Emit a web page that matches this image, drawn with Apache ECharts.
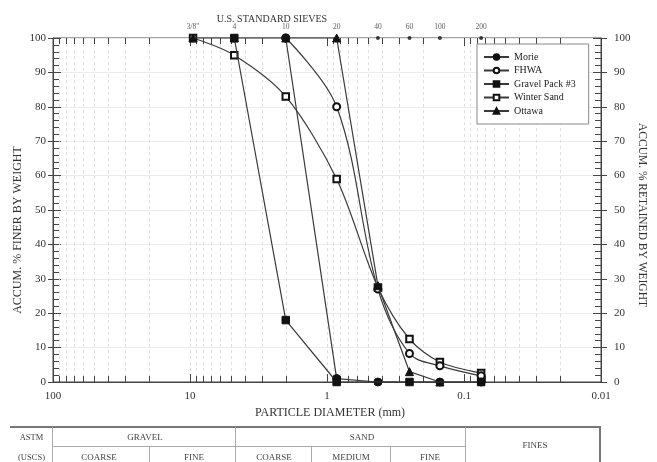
<!DOCTYPE html>
<html><head><meta charset="utf-8">
<script src="https://cdn.jsdelivr.net/npm/echarts@6/dist/echarts.min.js"></script>
<style>html,body{margin:0;padding:0;background:#fff}#c{width:657px;height:462px}</style>
</head><body><div id="c"></div>
<script>
// ---- data ----
const sieveSizes = [9.5, 4.75, 2.0, 0.85, 0.425, 0.25, 0.15, 0.075];
const sieveLabels = ['3/8"', '4', '10', '20', '40', '60', '100', '200'];
const seriesNames = ['Morie', 'FHWA', 'Gravel Pack #3', 'Winter Sand', 'Ottawa'];

const morieSizes = [2.0, 0.85, 0.425, 0.15, 0.075];
const morieValues = [100, 1, 0, 0, 0];
const fhwaSizes = [2.0, 0.85, 0.425, 0.25, 0.15, 0.075];
const fhwaValues = [100, 80, 27, 8.3, 4.7, 1.8];
const gravelSizes = [4.75, 2.0, 0.85, 0.25, 0.075];
const gravelValues = [100, 18, 0, 0, 0];
const winterSizes = [9.5, 4.75, 2.0, 0.85, 0.425, 0.25, 0.15, 0.075];
const winterValues = [100, 95, 83, 59, 27.5, 12.5, 5.8, 2.6];
const ottawaSizes = [9.5, 4.75, 2.0, 0.85, 0.425, 0.25, 0.15];
const ottawaValues = [100, 100, 100, 100, 28, 3, 0];

const decadeTicks = [10, 1, 0.1];
const minorTicks = [90, 80, 70, 60, 50, 40, 30, 20,
                    9, 8, 7, 6, 5, 4, 3, 2,
                    0.9, 0.8, 0.7, 0.6, 0.5, 0.4, 0.3, 0.2,
                    0.09, 0.08, 0.07, 0.06, 0.05, 0.04, 0.03, 0.02];

const FONT = 'Liberation Serif';
const INK = '#333';

function zip(a, b) { return a.map((v, i) => [v, b[i]]); }

const chart = echarts.init(document.getElementById('c'), null, {renderer: 'canvas'});

function lineSeries(name, sizes, values, symbol, size, smooth, z) {
  return {
    name: name, type: 'line', data: zip(sizes, values),
    symbol: symbol, symbolSize: size, smooth: smooth || false,
    clip: false, z: z,
    lineStyle: {color: '#3a3a3a', width: 1.2},
    itemStyle: {color: '#111', borderColor: '#111', borderWidth: 1},
    emphasis: {disabled: true}
  };
}

const tickData = decadeTicks.map(v => [v, 1]).concat(minorTicks.map(v => [v, 0]));

const yBase = {
  type: 'value', min: 0, max: 100, interval: 10
};

chart.setOption({
  animation: false,
  backgroundColor: '#fff',
  grid: {left: 53, right: 56, top: 38, bottom: 80, show: true, borderColor: '#444', borderWidth: 1, backgroundColor: 'transparent'},
  xAxis: {
    type: 'log', logBase: 10, min: 0.01, max: 100, inverse: true,
    axisLine: {show: true, onZero: false, lineStyle: {color: '#444'}},
    axisTick: {show: false}, minorTick: {show: false}, splitLine: {show: false},
    axisLabel: {margin: 9, color: INK, fontFamily: FONT, fontSize: 11,
      formatter: v => String(parseFloat(Number(v).toPrecision(3)))}
  },
  yAxis: [
    Object.assign({}, yBase, {
      position: 'left',
      axisLine: {show: true, onZero: false, lineStyle: {color: '#444'}},
      axisTick: {show: true, inside: true, length: 8, lineStyle: {color: '#444'}},
      minorTick: {show: true, splitNumber: 5, length: 6, lineStyle: {color: '#444'}},
      splitLine: {show: true, lineStyle: {color: '#ececec', width: 1}},
      axisLabel: {margin: 7, color: INK, fontFamily: FONT, fontSize: 11}
    }),
    Object.assign({}, yBase, {
      position: 'right',
      axisLine: {show: true, onZero: false, lineStyle: {color: '#444'}},
      axisTick: {show: true, inside: true, length: 8, lineStyle: {color: '#444'}},
      minorTick: {show: true, splitNumber: 5, length: 6, lineStyle: {color: '#444'}},
      splitLine: {show: false},
      axisLabel: {margin: 13, color: INK, fontFamily: FONT, fontSize: 11}
    }),
    Object.assign({}, yBase, {
      position: 'left', axisLine: {show: false},
      axisTick: {show: true, inside: false, length: 5, lineStyle: {color: '#444'}},
      splitLine: {show: false}, axisLabel: {show: false}
    }),
    Object.assign({}, yBase, {
      position: 'right', axisLine: {show: false},
      axisTick: {show: true, inside: false, length: 6, lineStyle: {color: '#444'}},
      splitLine: {show: false}, axisLabel: {show: false}
    })
  ],
  legend: {
    data: seriesNames, orient: 'vertical', left: 477, top: 44,
    padding: [7, 13, 7, 6], itemWidth: 25, itemHeight: 7, itemGap: 1.5,
    borderColor: '#888', borderWidth: 1, backgroundColor: '#fff',
    textStyle: {fontFamily: FONT, fontSize: 10, color: '#222', lineHeight: 12},
    selectedMode: false
  },
  series: [
    {
      type: 'custom', silent: true, z: 1, clip: false,
      data: tickData, encode: {x: 0, y: 1},
      renderItem: function (params, api) {
        const v = api.value(0);
        const major = api.value(1) === 1;
        const b = api.coord([v, 0]);
        const t = api.coord([v, 100]);
        const x = Math.round(b[0]) + 0.5;
        const tl = major ? 8 : 6;
        return {
          type: 'group', children: [
            {type: 'line', shape: {x1: x, y1: t[1], x2: x, y2: b[1]},
             style: {stroke: '#e0e0e0', lineWidth: 1, lineDash: [3, 3]}},
            {type: 'line', shape: {x1: x, y1: b[1], x2: x, y2: b[1] - tl},
             style: {stroke: '#444', lineWidth: 1}},
            {type: 'line', shape: {x1: x, y1: t[1], x2: x, y2: t[1] + tl},
             style: {stroke: '#444', lineWidth: 1}}
          ]
        };
      }
    },
    {
      type: 'scatter', silent: true, z: 3, clip: false,
      data: sieveSizes.map((s, i) => ({value: [s, 100], name: sieveLabels[i]})),
      symbol: 'circle', symbolSize: 4, itemStyle: {color: '#111'},
      label: {show: true, position: 'top', distance: 5, formatter: '{b}',
        fontFamily: FONT, fontSize: 7.5, color: INK}
    },
    lineSeries('Morie', morieSizes, morieValues, 'circle', 8, false, 7),
    lineSeries('FHWA', fhwaSizes, fhwaValues, 'emptyCircle', 7, 0.35, 5),
    lineSeries('Gravel Pack #3', gravelSizes, gravelValues, 'rect', 7.5, false, 8),
    lineSeries('Winter Sand', winterSizes, winterValues, 'emptyRect', 6.5, 0.3, 4),
    lineSeries('Ottawa', ottawaSizes, ottawaValues, 'triangle', 8, false, 6)
  ],
  graphic: (function () {
    const g = [];
    const txt = (text, x, y, size, rot, color) => g.push({
      type: 'text', x: x, y: y, rotation: rot || 0, silent: true,
      style: {text: text, fontFamily: FONT, fontSize: size, fill: color || INK,
        align: 'center', verticalAlign: 'middle'}
    });
    const ln = (x1, y1, x2, y2, w, c) => g.push({
      type: 'line', silent: true,
      shape: {x1: x1, y1: y1, x2: x2, y2: y2},
      style: {stroke: c || '#999', lineWidth: w || 1}
    });
    txt('U.S. STANDARD SIEVES', 272, 19, 10);
    txt('PARTICLE DIAMETER (mm)', 330, 413, 12);
    txt('ACCUM. % FINER BY WEIGHT', 18, 230, 12, Math.PI / 2);
    txt('ACCUM. % RETAINED BY WEIGHT', 642, 215, 11.5, -Math.PI / 2);
    // classification table
    ln(10, 427, 601, 427, 2, '#777');
    ln(600, 426, 600, 470, 2, '#777');
    ln(52.5, 427, 52.5, 470, 1, '#aaa');
    ln(235.5, 427, 235.5, 470, 1, '#aaa');
    ln(465.5, 427, 465.5, 470, 1, '#aaa');
    ln(52.5, 446.5, 465.5, 446.5, 1, '#aaa');
    ln(149.5, 446.5, 149.5, 470, 1, '#aaa');
    ln(311.5, 446.5, 311.5, 470, 1, '#aaa');
    ln(390.5, 446.5, 390.5, 470, 1, '#aaa');
    txt('ASTM', 31.5, 437.5, 8.5, 0, '#444');
    txt('(USCS)', 31.5, 458, 8.5, 0, '#444');
    txt('GRAVEL', 145, 437.5, 9, 0, '#444');
    txt('SAND', 362, 437.5, 9, 0, '#444');
    txt('FINES', 535, 446, 9, 0, '#444');
    txt('COARSE', 99, 458, 9, 0, '#444');
    txt('FINE', 194, 458, 9, 0, '#444');
    txt('COARSE', 274, 458, 9, 0, '#444');
    txt('MEDIUM', 351, 458, 9, 0, '#444');
    txt('FINE', 430, 458, 9, 0, '#444');
    return g;
  })()
});
</script>
</body></html>
